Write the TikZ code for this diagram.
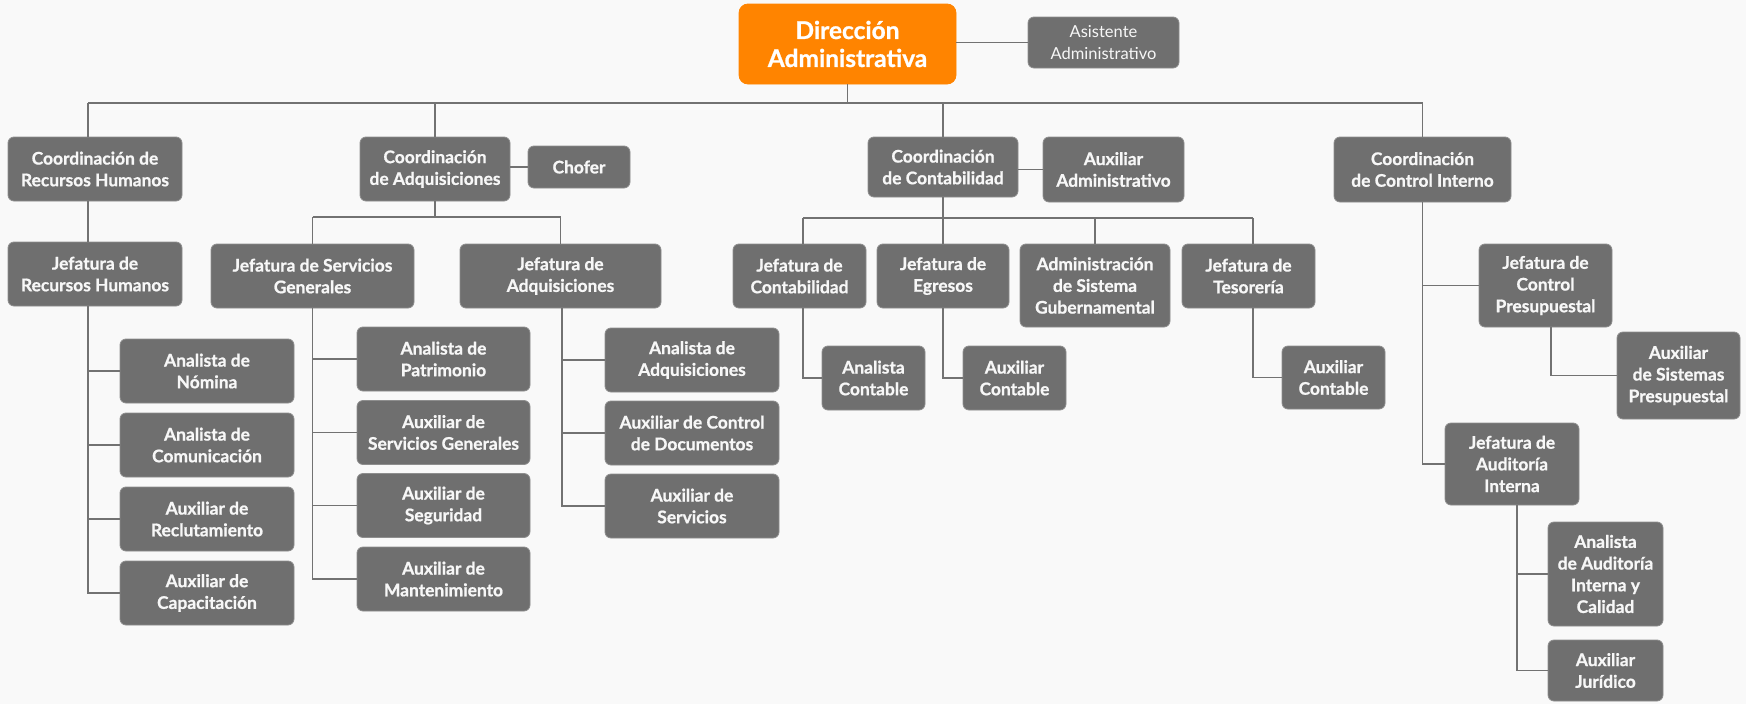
\documentclass[tikz,border=0pt]{standalone}
\usepackage{fontspec}
\setmainfont{Lato}[BoldFeatures={FakeBold=0.9}]
\usetikzlibrary{calc}
\definecolor{bg}{HTML}{F9F9F9}
\definecolor{boxgray}{HTML}{6F6F6F}
\definecolor{boxedge}{HTML}{8E8E8E}
\definecolor{linegray}{HTML}{727272}
\definecolor{orangebox}{HTML}{FF8400}
\definecolor{txt}{HTML}{F7F7F7}
\tikzset{
  box/.style={rectangle, rounded corners=6pt, fill=boxgray, draw=boxedge, line width=0.8pt,
    text=txt, align=center, inner sep=0pt,
    font=\bfseries\fontsize{17.4}{21.7}\selectfont},
  conn/.style={draw=linegray, line width=1.6pt},
}
\newcommand{\bx}[6]{\node[box, minimum width=#3pt, minimum height=#4pt] (#1) at (#2) {#5};}
\begin{document}
\begin{tikzpicture}[x=1pt,y=-1pt]
\fill[bg] (0,0) rectangle (1746,704);
\useasboundingbox (0,0) rectangle (1746,704);

% top
\node[box, fill=orangebox, draw=orangebox, rounded corners=9pt, minimum width=217pt, minimum height=80pt,
  font=\bfseries\fontsize{24.5}{28}\selectfont, text=white] (dir) at (847.5,44) {Dirección\\Administrativa};
\node[box, minimum width=151pt, minimum height=51pt, font=\fontsize{16.5}{22}\selectfont] (asis) at (1103.5,42.5) {Asistente\\Administrativo};

% level 1
\bx{crh}{95,169}{174}{64}{Coordinación de\\Recursos Humanos}{}
\bx{cadq}{435,169}{150}{64}{Coordinación\\de Adquisiciones}{}
\bx{chofer}{579,167}{102}{42}{Chofer}{}
\bx{ccont}{943,167}{150}{60}{Coordinación\\de Contabilidad}{}
\bx{auxadm}{1113.5,169.5}{141}{65}{Auxiliar\\Administrativo}{}
\bx{cci}{1422.5,169.5}{177}{65}{Coordinación\\de Control Interno}{}

% level 2
\bx{jrh}{95,274}{174}{64}{Jefatura de\\Recursos Humanos}{}
\bx{jsg}{312.5,276}{203}{64}{Jefatura de Servicios\\Generales}{}
\bx{jadq}{560.5,276}{201}{64}{Jefatura de\\Adquisiciones}{}
\bx{jcont}{799.5,276}{133}{64}{Jefatura de\\Contabilidad}{}
\bx{jegr}{943,276}{132}{64}{Jefatura de\\Egresos}{}
\bx{asgub}{1095,285.5}{150}{83}{Administración\\de Sistema\\Gubernamental}{}
\bx{jtes}{1248.5,276}{133}{64}{Jefatura de\\Tesorería}{}
\bx{jcp}{1545.5,285.5}{133}{83}{Jefatura de\\Control\\Presupuestal}{}
\bx{asp}{1678.5,375.5}{123}{87}{Auxiliar\\de Sistemas\\Presupuestal}{}
\bx{jai}{1512,464}{134}{82}{Jefatura de\\Auditoría\\Interna}{}
\bx{aaic}{1605.5,574}{115}{104}{Analista\\de Auditoría\\Interna y\\Calidad}{}
\bx{ajur}{1605.5,670.5}{115}{61}{Auxiliar\\Jurídico}{}

% RH list
\bx{nom}{207,371}{174}{64}{Analista de\\Nómina}{}
\bx{com}{207,445}{174}{64}{Analista de\\Comunicación}{}
\bx{rec}{207,519}{174}{64}{Auxiliar de\\Reclutamiento}{}
\bx{cap}{207,593}{174}{64}{Auxiliar de\\Capacitación}{}

% SG list
\bx{pat}{443.5,359}{173}{64}{Analista de\\Patrimonio}{}
\bx{asg}{443.5,432.5}{173}{64}{Auxiliar de\\Servicios Generales}{}
\bx{seg}{443.5,505.5}{173}{64}{Auxiliar de\\Seguridad}{}
\bx{man}{443.5,579}{173}{64}{Auxiliar de\\Mantenimiento}{}

% ADQ list
\bx{aadq}{692,360}{174}{64}{Analista de\\Adquisiciones}{}
\bx{acd}{692,433}{174}{64}{Auxiliar de Control\\de Documentos}{}
\bx{aserv}{692,506}{174}{64}{Auxiliar de\\Servicios}{}

% contables
\bx{acont1}{873.5,378}{103}{64}{Analista\\Contable}{}
\bx{acont2}{1014.5,378}{103}{64}{Auxiliar\\Contable}{}
\bx{acont3}{1333.5,377.5}{103}{63}{Auxiliar\\Contable}{}

% coordinates
\coordinate (busL) at (88,103);
\coordinate (adqbus) at (0,217);
\coordinate (cb1) at (803,218);
\coordinate (cb4) at (1253,218);
\coordinate (cpx) at (1551,0);
\coordinate (aix) at (1517,0);

% top
\draw[conn] (dir.east |- asis.west) -- (asis.west);
\draw[conn] (dir.south) -- (dir.south |- busL);
\draw[conn] (busL) -- (cci.north |- busL);
\draw[conn] (cadq.north) -- (cadq.north |- busL);
\draw[conn] (ccont.north) -- (ccont.north |- busL);
\draw[conn] (cci.north) -- (cci.north |- busL);
\draw[conn] (busL) -- (busL |- crh.north);

% RH
\draw[conn] (busL |- crh.south) -- (busL |- jrh.north);
\draw[conn] (busL |- jrh.south) -- (busL |- cap) -- (cap.west);
\foreach \n in {nom,com,rec} \draw[conn] (busL |- \n) -- (\n.west);

% Adquisiciones
\draw[conn] (cadq.east |- chofer.west) -- (chofer.west);
\draw[conn] (cadq.south) -- (cadq.south |- adqbus);
\draw[conn] (jsg.north |- adqbus) -- (jadq.north |- adqbus);
\draw[conn] (jsg.north |- adqbus) -- (jsg.north);
\draw[conn] (jadq.north |- adqbus) -- (jadq.north);
\draw[conn] (jsg.south) -- (jsg.south |- man) -- (man.west);
\foreach \n in {pat,asg,seg} \draw[conn] (jsg.south |- \n) -- (\n.west);
\draw[conn] ($(jadq.south)+(1.5,0)$) -- ($(jadq.south |- aserv)+(1.5,0)$) -- (aserv.west);
\foreach \n in {aadq,acd} \draw[conn] ($(jadq.south |- \n)+(1.5,0)$) -- (\n.west);

% Contabilidad
\draw[conn] (ccont.east |- auxadm.west) -- (auxadm.west);
\draw[conn] (ccont.south) -- (ccont.south |- cb1);
\draw[conn] (cb1) -- (cb4);
\draw[conn] (cb1) -- (cb1 |- jcont.north);
\draw[conn] (ccont.south |- cb1) -- (jegr.north);
\draw[conn] (asgub.north |- cb1) -- (asgub.north);
\draw[conn] (cb4) -- (cb4 |- jtes.north);
\draw[conn] (cb1 |- jcont.south) -- (cb1 |- acont1) -- (acont1.west);
\draw[conn] (jegr.south) -- (jegr.south |- acont2) -- (acont2.west);
\draw[conn] (cb4 |- jtes.south) -- (cb4 |- acont3) -- (acont3.west);

% Control interno
\draw[conn] (cci.south) -- (cci.south |- jai.west) -- (jai.west);
\draw[conn] (cci.south |- jcp.west) -- (jcp.west);
\draw[conn] (cpx |- jcp.south) -- (cpx |- asp.west) -- (asp.west);
\draw[conn] (aix |- jai.south) -- (aix |- ajur.west) -- (ajur.west);
\draw[conn] (aix |- aaic.west) -- (aaic.west);
\end{tikzpicture}
\end{document}
